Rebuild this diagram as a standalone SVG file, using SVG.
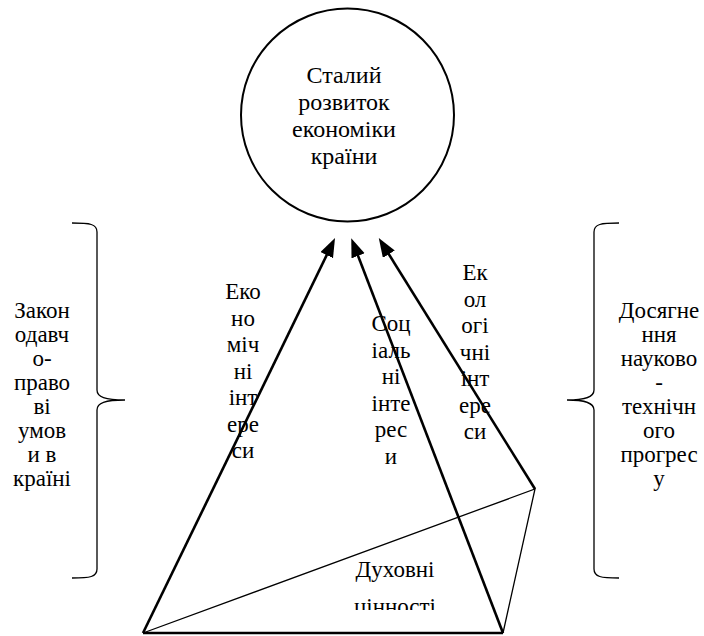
<svg xmlns="http://www.w3.org/2000/svg" width="704" height="636" viewBox="0 0 704 636">
<style>
text{font-size:23px;fill:#000;text-anchor:middle}
#goal text{font-size:24px}
.thick{stroke:#000;stroke-width:2.6;fill:none}
.thin{stroke:#000;stroke-width:1.3;fill:none}
.brace{stroke:#000;stroke-width:1.3;fill:none}
</style>
<defs>
<marker id="ah" markerUnits="userSpaceOnUse" markerWidth="24" markerHeight="16" viewBox="0 0 24 16" refX="8" refY="7" orient="auto">
<path d="M0,0 L19,7 L0,14 Z" fill="#000"/>
</marker>
<clipPath id="clipDuh"><rect x="300" y="540" width="200" height="70"/></clipPath>
</defs>
<g font-family="Liberation Serif, DejaVu Serif, serif">
<g id="goal">
<circle cx="347.5" cy="115" r="106.5" fill="none" stroke="#000" stroke-width="2"/>
<text x="344" y="83">Сталий</text>
<text x="344" y="110">розвиток</text>
<text x="344" y="137">економіки</text>
<text x="344" y="164">країни</text>
</g>
<g id="connectors">
<path class="thick" d="M143,633 L330.2,247.9" marker-end="url(#ah)"/>
<path class="thick" d="M503,633 L355.2,248.4" marker-end="url(#ah)"/>
<path class="thick" d="M535,489 L384.6,247.4" marker-end="url(#ah)"/>
<path class="thick" d="M143,633 L503,633"/>
<path class="thin" d="M143,633 L535,489 L503,633"/>
</g>
<g id="left-brace">
<path class="brace" d="M72,223 C90,223 97,224 97,232 L97,390 C97,397 105,400 125,400 C105,400 97,403 97,410 L97,569 C97,577 90,578 72,578"/>
<text x="42" y="318">Закон</text>
<text x="42" y="342">одавч</text>
<text x="42" y="366">о-</text>
<text x="42" y="390">право</text>
<text x="42" y="414">ві</text>
<text x="42" y="438">умов</text>
<text x="42" y="462">и в</text>
<text x="42" y="486">країні</text>
</g>
<g id="right-brace">
<path class="brace" d="M619,223 C601,223 594,224 594,232 L594,390 C594,397 586,400 567,400 C586,400 594,403 594,410 L594,569 C594,577 601,578 619,578"/>
<text x="659" y="318">Досягне</text>
<text x="659" y="342">ння</text>
<text x="659" y="366">науково</text>
<text x="659" y="390">-</text>
<text x="659" y="414">технічн</text>
<text x="659" y="438">ого</text>
<text x="659" y="462">прогрес</text>
<text x="659" y="486">у</text>
</g>
<g id="economic">
<text x="243" y="299">Еко</text>
<text x="243" y="325.5">но</text>
<text x="243" y="352">міч</text>
<text x="243" y="378.5">ні</text>
<text x="243" y="405">інт</text>
<text x="243" y="431.5">ере</text>
<text x="243" y="458">си</text>
</g>
<g id="social">
<text x="391" y="331">Соц</text>
<text x="391" y="357.5">іаль</text>
<text x="391" y="384">ні</text>
<text x="391" y="410.5">інте</text>
<text x="391" y="437">рес</text>
<text x="391" y="463.5">и</text>
</g>
<g id="ecological">
<text x="475" y="280">Ек</text>
<text x="475" y="306.5">ол</text>
<text x="475" y="333">огі</text>
<text x="475" y="359.5">чні</text>
<text x="475" y="386">інт</text>
<text x="475" y="412.5">ере</text>
<text x="475" y="439">си</text>
</g>
<g id="spiritual">
<text x="395" y="577">Духовні</text>
<text x="395" y="614" clip-path="url(#clipDuh)">цінності</text>
</g>
</g>
</svg>
